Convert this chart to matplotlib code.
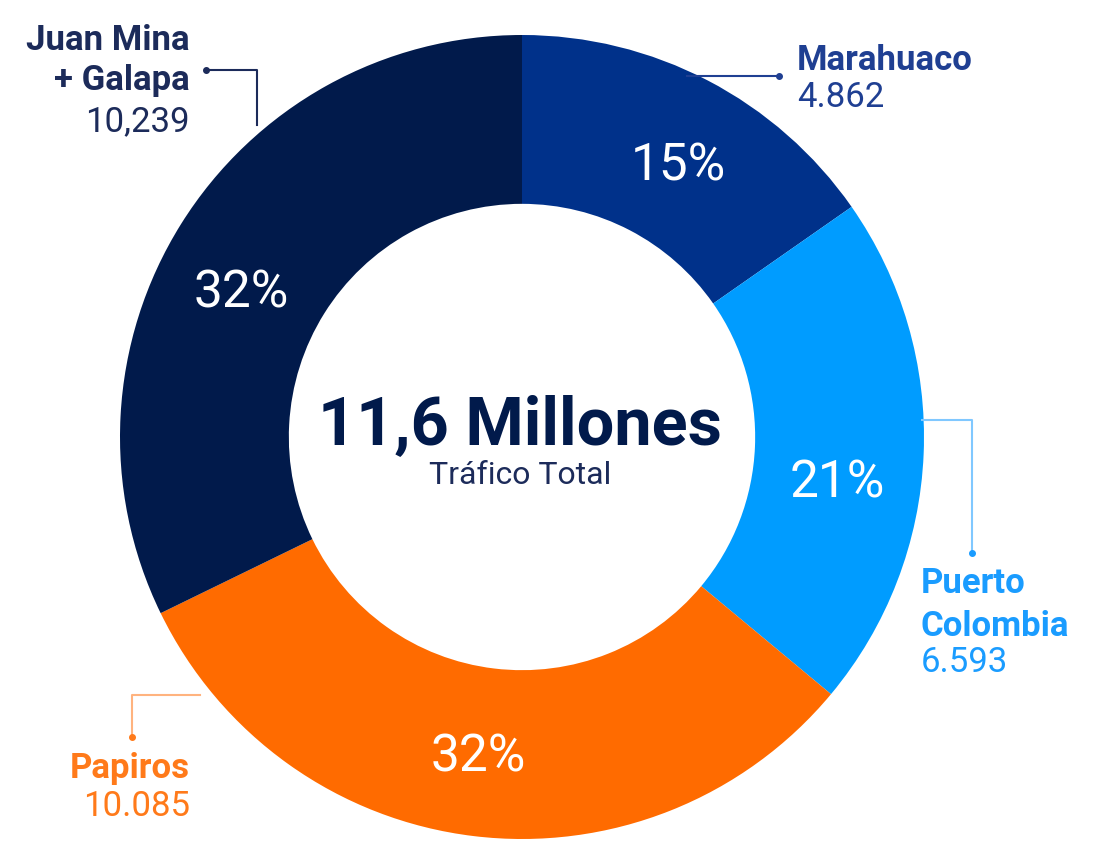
import matplotlib
matplotlib.use("Agg")
import matplotlib.pyplot as plt
import numpy as np

# ---- data ----
categories = ["Marahuaco", "Puerto Colombia", "Papiros", "Juan Mina + Galapa"]
values = [4862, 6593, 10085, 10239]
value_labels = ["4.862", "6.593", "10.085", "10,239"]
pct_labels = ["15%", "21%", "32%", "32%"]
colors = ["#00318a", "#009cff", "#ff6b00", "#011a4b"]
center_title = "11,6 Millones"
center_sub = "Tráfico Total"

W, H = 1102, 851
fig = plt.figure(figsize=(W / 100, H / 100), dpi=100)
ax = fig.add_axes([0, 0, 1, 1])

def Y(y):
    return H - y

FONT = ["Roboto", "DejaVu Sans"]
cx, cy, R = 522, Y(437), 402
ring = 0.42

ax.pie(values, colors=colors, startangle=90, counterclock=False,
       center=(cx, cy), radius=R,
       wedgeprops=dict(width=R * ring, edgecolor="none", linewidth=0))
ax.set_xlim(0, W)
ax.set_ylim(0, H)
ax.set_aspect("equal")
ax.axis("off")

total = sum(values)
ang = 90.0
rl = R * (1 - ring / 2)
label_shift = [-2, -5, -1, 4]  # small angular nudges (degrees)
for v, lab, sh in zip(values, pct_labels, label_shift):
    sweep = v / total * 360
    mid = np.deg2rad(ang - sweep / 2 + sh)
    ax.text(cx + rl * np.cos(mid), cy + rl * np.sin(mid), lab, color="white",
            fontsize=37, fontweight="normal", family=FONT, ha="center",
            va="center_baseline")
    ang -= sweep

ax.text(cx - 2, Y(444), center_title, fontsize=48, fontweight="bold", color="#011a4b",
        family=FONT, ha="center", va="baseline")
ax.text(cx - 2, Y(484), center_sub, fontsize=23, color="#1c2b5a",
        family=FONT, ha="center", va="baseline")

lbl_fs = 25
# Juan Mina + Galapa
c_jm = "#1c2b5a"
ax.text(190, Y(50), "Juan Mina", fontsize=lbl_fs, fontweight="bold", color=c_jm, family=FONT, ha="right", va="baseline")
ax.text(190, Y(90), "+ Galapa", fontsize=lbl_fs, fontweight="bold", color=c_jm, family=FONT, ha="right", va="baseline")
ax.text(190, Y(131), value_labels[3], fontsize=lbl_fs, color=c_jm, family=FONT, ha="right", va="baseline")
ax.plot([206, 257, 257], [Y(70), Y(70), Y(125)], color=c_jm, lw=1.5)
ax.plot([206], [Y(70)], "o", color=c_jm, ms=4)

# Marahuaco
c_ma = "#1f3f92"
ax.text(797, Y(70), "Marahuaco", fontsize=lbl_fs, fontweight="bold", color=c_ma, family=FONT, ha="left", va="baseline")
ax.text(797, Y(107), value_labels[0], fontsize=lbl_fs, color=c_ma, family=FONT, ha="left", va="baseline")
ax.plot([687, 779], [Y(76), Y(76)], color=c_ma, lw=1.5)
ax.plot([779], [Y(76)], "o", color=c_ma, ms=4)

# Puerto Colombia
c_pc = "#1a9cff"
ax.text(921, Y(593), "Puerto", fontsize=lbl_fs, fontweight="bold", color=c_pc, family=FONT, ha="left", va="baseline")
ax.text(921, Y(636), "Colombia", fontsize=lbl_fs, fontweight="bold", color=c_pc, family=FONT, ha="left", va="baseline")
ax.text(921, Y(672), value_labels[1], fontsize=lbl_fs, color=c_pc, family=FONT, ha="left", va="baseline")
ax.plot([922, 972, 972], [Y(420), Y(420), Y(553)], color="#80c8ff", lw=1.5)
ax.plot([972], [Y(553)], "o", color=c_pc, ms=4)

# Papiros
c_pa = "#ff7a1a"
ax.text(190, Y(778), "Papiros", fontsize=lbl_fs, fontweight="bold", color=c_pa, family=FONT, ha="right", va="baseline")
ax.text(190, Y(816), value_labels[2], fontsize=lbl_fs, color=c_pa, family=FONT, ha="right", va="baseline")
ax.plot([200, 132, 132], [Y(695), Y(695), Y(737)], color="#ffb37f", lw=1.5)
ax.plot([132], [Y(737)], "o", color=c_pa, ms=4)

fig.savefig("out.png", dpi=100, facecolor="white")
